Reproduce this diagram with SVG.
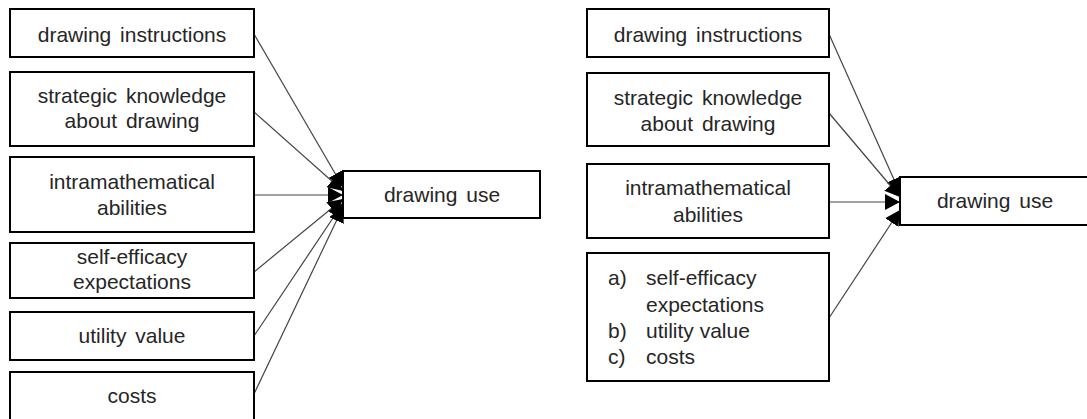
<svg xmlns="http://www.w3.org/2000/svg" width="1087" height="419" viewBox="0 0 1087 419">
<style>
.box{fill:#fff;stroke:#000;stroke-width:2}
.t{font-family:"Liberation Sans",Arial,sans-serif;font-size:21px;fill:#262626;text-anchor:middle;word-spacing:3px}
.l{font-family:"Liberation Sans",Arial,sans-serif;font-size:21px;fill:#262626}
.c{stroke:#444;stroke-width:1.2;fill:none;marker-end:url(#ah)}
</style>
<defs>
<marker id="ah" markerUnits="userSpaceOnUse" markerWidth="15" markerHeight="16" refX="15" refY="8" orient="auto">
<path d="M0,0 L15,8 L0,16 z" fill="#000"/>
</marker>
</defs>
<rect width="1087" height="419" fill="#fff"/>
<g id="connectors">
<line class="c" x1="254" y1="34" x2="343" y2="187"/>
<line class="c" x1="254" y1="112" x2="343" y2="191"/>
<line class="c" x1="254" y1="195" x2="343" y2="195"/>
<line class="c" x1="254" y1="272" x2="343" y2="199"/>
<line class="c" x1="254" y1="336" x2="343" y2="203"/>
<line class="c" x1="254" y1="394" x2="343" y2="207"/>
<line class="c" x1="829" y1="34" x2="900" y2="193"/>
<line class="c" x1="829" y1="113" x2="900" y2="197"/>
<line class="c" x1="829" y1="202" x2="900" y2="202"/>
<line class="c" x1="829" y1="318" x2="900" y2="210"/>
</g>
<g id="L1"><rect class="box" x="10" y="9" width="244" height="48"/><text class="t" x="132" y="42">drawing instructions</text></g>
<g id="L2"><rect class="box" x="10" y="72" width="244" height="74"/><text class="t" x="132" y="103">strategic knowledge</text><text class="t" x="132" y="128">about drawing</text></g>
<g id="L3"><rect class="box" x="10" y="157" width="244" height="75"/><text class="t" x="132" y="189">intramathematical</text><text class="t" x="132" y="215">abilities</text></g>
<g id="L4"><rect class="box" x="10" y="243" width="244" height="55"/><text class="t" x="132" y="264">self-efficacy</text><text class="t" x="132" y="289">expectations</text></g>
<g id="L5"><rect class="box" x="10" y="312" width="244" height="48"/><text class="t" x="132" y="343">utility value</text></g>
<g id="L6"><rect class="box" x="10" y="372" width="244" height="50"/><text class="t" x="132" y="403">costs</text></g>
<g id="LU"><rect class="box" x="343" y="171" width="197" height="47"/><text class="t" x="442" y="202">drawing use</text></g>
<g id="R1"><rect class="box" x="587" y="9" width="242" height="48"/><text class="t" x="708" y="42">drawing instructions</text></g>
<g id="R2"><rect class="box" x="587" y="73" width="242" height="73"/><text class="t" x="708" y="105">strategic knowledge</text><text class="t" x="708" y="131">about drawing</text></g>
<g id="R3"><rect class="box" x="587" y="164" width="242" height="74"/><text class="t" x="708" y="195">intramathematical</text><text class="t" x="708" y="222">abilities</text></g>
<g id="R4"><rect class="box" x="587" y="253" width="242" height="128"/>
<text class="l" x="608" y="285">a)</text><text class="l" x="646" y="285">self-efficacy</text>
<text class="l" x="646" y="312">expectations</text>
<text class="l" x="608" y="338">b)</text><text class="l" x="646" y="338">utility value</text>
<text class="l" x="608" y="364">c)</text><text class="l" x="646" y="364">costs</text></g>
<g id="RU"><rect class="box" x="900" y="177" width="200" height="48"/><text class="t" x="995" y="208">drawing use</text></g>
</svg>
